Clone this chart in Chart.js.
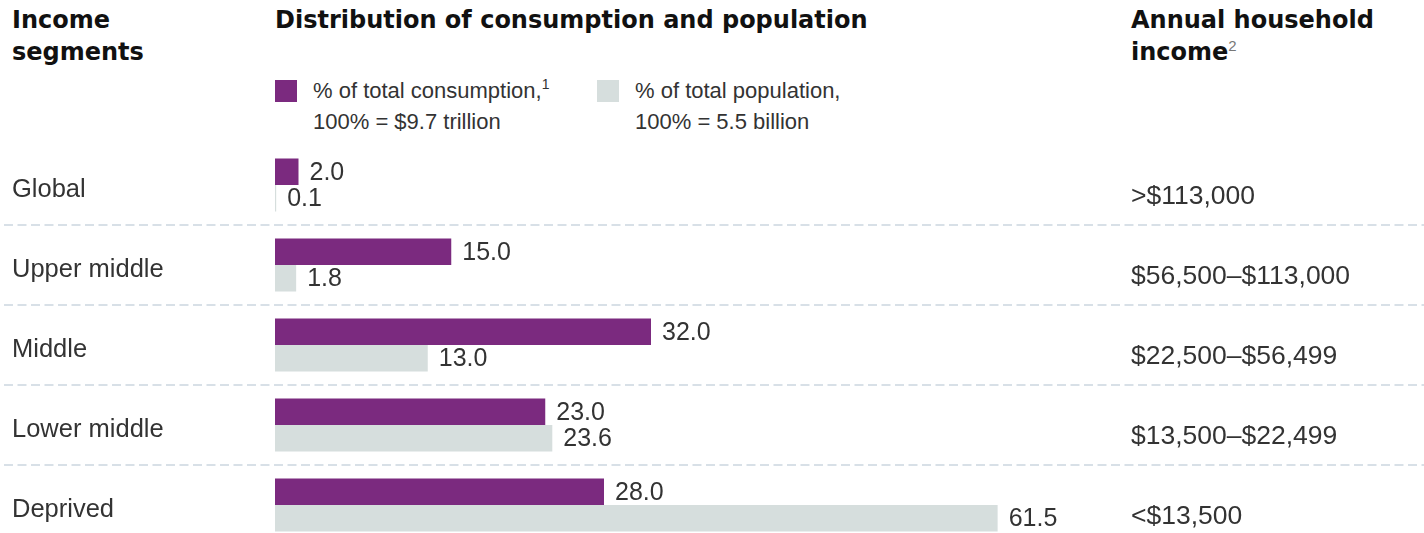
<!DOCTYPE html>
<html>
<head>
<meta charset="utf-8">
<script src="https://cdn.jsdelivr.net/npm/chart.js@4"></script>
<style>
  html, body { margin: 0; padding: 0; background: #fff; overflow: hidden; }
  body { width: 1424px; height: 533px; position: relative; font-family: "Liberation Sans", Arial, sans-serif; color: #333; }
  .hd { position: absolute; font-family: "DejaVu Sans", sans-serif; font-weight: bold; font-size: 24px; line-height: 32px; color: #111; }
  .hd sup { font-family: "Liberation Sans", sans-serif; font-weight: normal; font-size: 15px; color: #777; vertical-align: 9px; line-height: 0; }
  .lg { position: absolute; top: 75px; font-size: 22px; line-height: 31px; color: #333; }
  .lg .sw { position: absolute; left: 0; top: 5px; width: 22px; height: 22px; }
  .lg .tx { margin-left: 38px; white-space: nowrap; }
  .lg sup { font-size: 14px; vertical-align: 9px; line-height: 0; }
  #wrap { position: absolute; left: 0; top: 145px; width: 1424px; height: 400px; }
</style>
</head>
<body>
<div class="hd" style="left:12px; top:4px;">Income<br>segments</div>
<div class="hd" style="left:275px; top:4px;">Distribution of consumption and population</div>
<div class="hd" style="left:1131px; top:4px;">Annual household<br>income<sup>2</sup></div>

<div class="lg" style="left:275px;"><div class="sw" style="background:#7b2a7f"></div><div class="tx">% of total consumption,<sup>1</sup><br>100% = $9.7 trillion</div></div>
<div class="lg" style="left:597px;"><div class="sw" style="background:#d6dedd"></div><div class="tx">% of total population,<br>100% = 5.5 billion</div></div>

<div id="wrap"><canvas id="chart"></canvas></div>

<script>
// 收入分層
const segments = ['Global', 'Upper middle', 'Middle', 'Lower middle', 'Deprived'];
const incomeRanges = ['>$113,000', '$56,500–$113,000', '$22,500–$56,499', '$13,500–$22,499', '<$13,500'];
const consumption = [2.0, 15.0, 32.0, 23.0, 28.0];
const population = [0.1, 1.8, 13.0, 23.6, 61.5];

const purple = '#7b2a7f';
const grey = '#d6dedd';

// 分隔虛線
const separators = {
    id: 'separators',
    beforeDatasetsDraw(chart) {
        const y = chart.scales.y;
        const ctx = chart.ctx;
        ctx.save();
        ctx.strokeStyle = '#d8e0e7';
        ctx.lineWidth = 2;
        ctx.setLineDash([9, 4.5]);
        for (let i = 1; i < segments.length; i++) {
            const py = Math.round((y.getPixelForValue(i - 1) + y.getPixelForValue(i)) / 2);
            ctx.beginPath();
            ctx.moveTo(4, py);
            ctx.lineTo(chart.width, py);
            ctx.stroke();
        }
        ctx.restore();
    }
};

// 數值標籤
const valueLabels = {
    id: 'valueLabels',
    afterDatasetsDraw(chart) {
        const ctx = chart.ctx;
        ctx.save();
        ctx.font = '25px "Liberation Sans", Arial, sans-serif';
        ctx.fillStyle = '#333';
        ctx.textAlign = 'left';
        ctx.textBaseline = 'middle';
        chart.data.datasets.forEach((ds, di) => {
            chart.getDatasetMeta(di).data.forEach((bar, i) => {
                ctx.fillText(ds.data[i].toFixed(1), bar.x + 11, bar.y + 1);
            });
        });
        ctx.restore();
    }
};

new Chart(document.getElementById('chart'), {
    type: 'bar',
    data: {
        labels: segments,
        datasets: [{
            label: '% of total consumption',
            data: consumption,
            backgroundColor: purple,
            categoryPercentage: 0.66,
            barPercentage: 1.0
        }, {
            label: '% of total population',
            data: population,
            backgroundColor: grey,
            categoryPercentage: 0.66,
            barPercentage: 1.0
        }]
    },
    options: {
        indexAxis: 'y',
        responsive: true,
        maintainAspectRatio: false,
        animation: false,
        layout: { padding: { left: 12, right: 0, top: 0, bottom: 0 } },
        plugins: {
            legend: { display: false },
            tooltip: { enabled: false }
        },
        scales: {
            x: {
                display: false,
                min: 0,
                max: 70
            },
            y: {
                type: 'category',
                position: 'left',
                grid: { display: false },
                border: { display: false },
                ticks: {
                    crossAlign: 'far',
                    labelOffset: 5,
                    color: '#333',
                    font: { family: '"Liberation Sans", Arial, sans-serif', size: 25.5 }
                },
                afterFit(scale) {
                    scale.width = 263;
                    scale.paddingTop = 0;
                    scale.paddingBottom = 0;
                }
            },
            y2: {
                type: 'category',
                position: 'right',
                labels: incomeRanges,
                offset: true,
                grid: { display: false },
                border: { display: false },
                ticks: {
                    crossAlign: 'near',
                    padding: 25.5,
                    labelOffset: 12,
                    color: '#333',
                    font: { family: '"Liberation Sans", Arial, sans-serif', size: 26.5 }
                },
                afterFit(scale) {
                    scale.width = 326.5;
                    scale.paddingTop = 0;
                    scale.paddingBottom = 0;
                }
            }
        }
    },
    plugins: [separators, valueLabels]
});
</script>
</body>
</html>
